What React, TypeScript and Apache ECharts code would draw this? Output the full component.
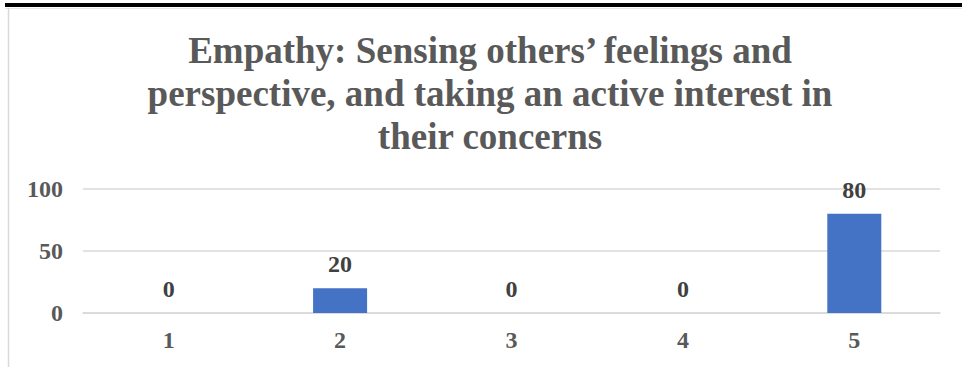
import React, { useEffect, useRef } from "react";
import * as echarts from "echarts";

const categories = ["1", "2", "3", "4", "5"];
const values = [0, 20, 0, 0, 80];
const yTicks = { min: 0, max: 100, interval: 50 };
const titleText =
  "Empathy: Sensing others\u2019 feelings and\nperspective, and taking an active interest in\ntheir concerns";

export default function App() {
  const ref = useRef<HTMLDivElement>(null);

  useEffect(() => {
    if (!ref.current) return;
    const chart = echarts.init(ref.current, undefined, { renderer: "svg" });
    const font = "Liberation Serif";
    chart.setOption({
      animation: false,
      backgroundColor: "#ffffff",
      textStyle: { fontFamily: font },
      grid: { left: 83, right: 22, top: 189, bottom: 54 },
      xAxis: {
        type: "category",
        data: categories,
        axisLine: { lineStyle: { color: "#d9d9d9", width: 1.5 } },
        axisTick: { show: false },
        axisLabel: {
          color: "#595959",
          fontSize: 24,
          fontWeight: "bold",
          fontFamily: font,
          margin: 15,
        },
      },
      yAxis: {
        type: "value",
        min: yTicks.min,
        max: yTicks.max,
        interval: yTicks.interval,
        axisLine: { show: false },
        axisTick: { show: false },
        splitLine: { lineStyle: { color: "#d9d9d9", width: 1.5 } },
        axisLabel: {
          color: "#595959",
          fontSize: 24,
          fontWeight: "bold",
          fontFamily: font,
          margin: 20,
        },
      },
      series: [
        {
          type: "bar",
          data: values,
          barWidth: 54,
          itemStyle: { color: "#4472c4" },
          label: {
            show: true,
            position: "top",
            distance: 12,
            color: "#404040",
            fontSize: 24,
            fontWeight: "bold",
            fontFamily: font,
          },
        },
      ],
      graphic: [
        {
          type: "rect",
          shape: { x: 5, y: 3, width: 957, height: 4 },
          style: { fill: "#000000" },
          silent: true,
        },
        {
          type: "line",
          shape: { x1: 5, y1: 8.5, x2: 962, y2: 8.5 },
          style: { stroke: "#e6e6e6", lineWidth: 1 },
          silent: true,
        },
        {
          type: "line",
          shape: { x1: 8.5, y1: 8, x2: 8.5, y2: 367 },
          style: { stroke: "#d9d9d9", lineWidth: 1.5 },
          silent: true,
        },
        // chart title, three centred lines
        {
          type: "text",
          x: 490,
          y: 29,
          silent: true,
          style: {
            text: titleText,
            align: "center",
            verticalAlign: "top",
            fontFamily: font,
            fontSize: 37,
            fontWeight: "bold",
            lineHeight: 43,
            fill: "#595959",
          },
        },
      ],
    });
    return () => chart.dispose();
  }, []);

  return (
    <div
      ref={ref}
      style={{ position: "fixed", left: 0, top: 0, width: 962, height: 367 }}
    />
  );
}
